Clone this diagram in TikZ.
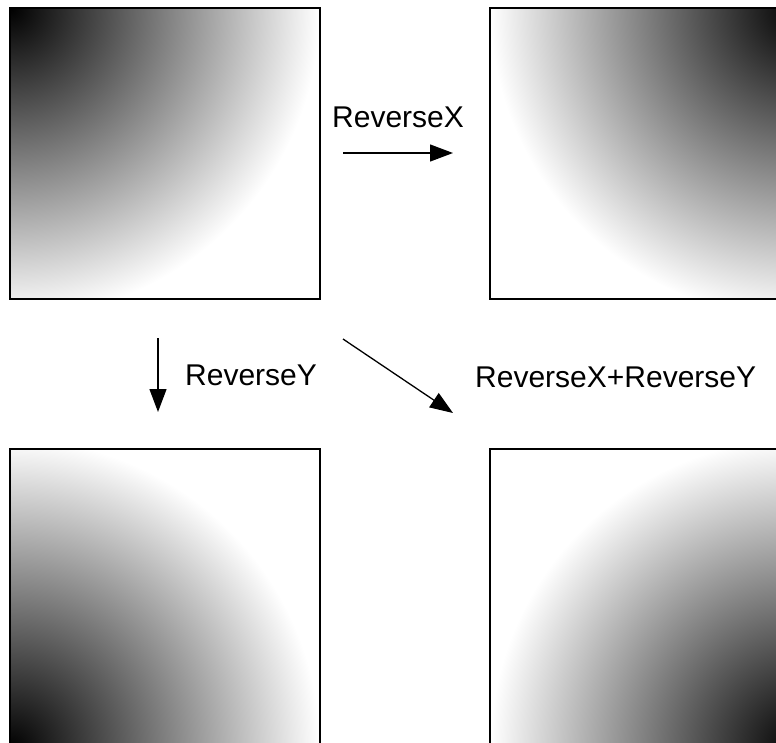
\documentclass[tikz,border=0pt]{standalone}
\usepackage{fontspec}
\setmainfont{Liberation Sans}
\usetikzlibrary{arrows.meta}
\pgfdeclareradialshading{cornerfade}{\pgfpoint{0bp}{0bp}}{color(0bp)=(black); color(25bp)=(white); color(50bp)=(white)}
\tikzset{
  panel/.style={draw=black, line width=1.5pt, minimum width=310pt, inner sep=0pt, outer sep=0pt},
  toppanel/.style={panel, minimum height=291pt},
  botpanel/.style={panel, minimum height=300pt},
  conn/.style={draw=black, line width=1.3pt, -{Triangle[length=23pt,width=17pt]}},
  lbl/.style={font=\fontsize{30}{36}\selectfont, inner sep=0pt}
}
\begin{document}
\begin{tikzpicture}[x=1pt,y=-1pt]
\useasboundingbox (0,0) rectangle (776,742);
\clip (0,0) rectangle (776,742);
\node[toppanel, path picture={\shade[shading=cornerfade] (path picture bounding box.north west) circle (310pt);}] (tl) at (165,153.5) {};
\node[toppanel, path picture={\shade[shading=cornerfade] (path picture bounding box.north east) circle (310pt);}] (tr) at (645,153.5) {};
\node[botpanel, path picture={\shade[shading=cornerfade] (path picture bounding box.south west) circle (310pt);}] (bl) at (165,599) {};
\node[botpanel, path picture={\shade[shading=cornerfade] (path picture bounding box.south east) circle (310pt);}] (br) at (645,599) {};
\coordinate (xs) at (343,153);
\coordinate (xe) at (453,153);
\coordinate (ys) at (158,338);
\coordinate (ye) at (158,412);
\coordinate (ds) at (343,339);
\coordinate (de) at (453,413);
\draw[conn] (xs) -- (xe);
\draw[conn] (ys) -- (ye);
\draw[conn] (ds) -- (de);
\node[lbl, anchor=base west] (lx) at (332,127) {ReverseX};
\node[lbl, anchor=base west] (ly) at (185,385) {ReverseY};
\node[lbl, anchor=base west] (lxy) at (475,387) {ReverseX+ReverseY};
\end{tikzpicture}
\end{document}
